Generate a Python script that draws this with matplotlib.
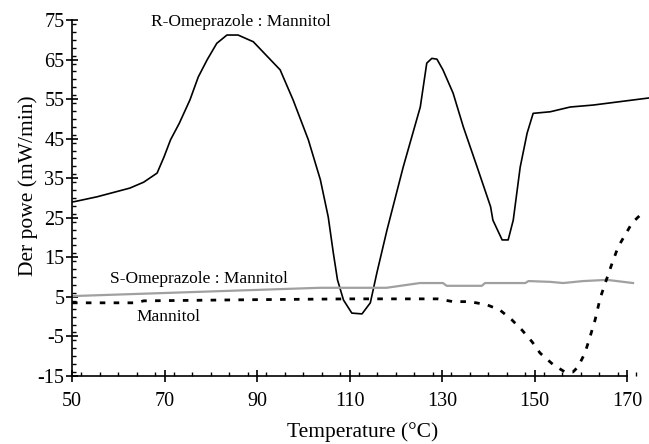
import numpy as np
import matplotlib
matplotlib.use('Agg')
import matplotlib.pyplot as plt
from matplotlib.ticker import MultipleLocator

# R-Omeprazole : Mannitol
r_temp = [50, 50.6, 55.4, 62.5, 65.5, 68.4, 69.9, 71.3, 73.2, 75.5, 77.3, 79.2, 81.3, 83.5, 85.9,
          89.2, 95.0, 97.8, 101.1, 103.7, 105.4, 106.5, 107.4, 108.7, 110.5, 112.7, 114.5, 115.9,
          118.1, 121.6, 125.3, 126.7, 127.8, 128.9, 130.2, 132.4, 134.6, 137.6, 140.5, 141.0,
          143.0, 144.3, 145.4, 146.9, 148.4, 149.7, 153.4, 157.7, 162.7, 174.8]
r_val = [29.0, 29.1, 30.3, 32.5, 34.0, 36.3, 40.4, 44.7, 48.9, 54.8, 60.6, 64.9, 69.1, 71.2, 71.2,
         69.5, 62.4, 54.8, 44.7, 34.6, 25.2, 16.1, 9.3, 4.2, 0.9, 0.7, 3.5, 11.0,
         21.9, 37.8, 53.0, 64.1, 65.3, 65.1, 62.4, 56.5, 48.0, 37.8, 27.8, 24.4,
         19.4, 19.4, 24.4, 37.8, 46.4, 51.4, 51.8, 53.0, 53.5, 55.3]

# S-Omeprazole : Mannitol
s_temp = [50, 103.6, 118.0, 125.2, 130.2, 131.0, 138.6, 139.3, 148.0, 148.7, 153.4, 156.2,
          160.5, 165.7, 171.3]
s_val = [5.2, 7.3, 7.3, 8.5, 8.5, 7.8, 7.8, 8.5, 8.5, 9.0, 8.8, 8.5, 9.0, 9.3, 8.5]

# Mannitol
m_temp = [50, 63.9, 65.5, 90, 110, 129.0, 132.4, 136.0, 139.7, 142.5, 145.1, 147.3, 149.5,
          151.2, 154.1, 156.6, 158.3, 159.4, 160.9, 162.0, 163.1, 164.2, 165.3, 166.8, 168.1,
          171.1, 173.3]
m_val = [3.5, 3.5, 4.0, 4.3, 4.5, 4.5, 3.8, 3.8, 3.0, 1.7, -0.8, -3.4, -6.4,
         -9.2, -12.2, -14.0, -14.0, -12.7, -9.2, -5.1, -0.8, 4.7, 8.5, 13.6, 17.7,
         23.7, 26.2]

x_ticks = [50, 70, 90, 110, 130, 150, 170]
y_ticks = [-15, -5, 5, 15, 25, 35, 45, 55, 65, 75]

plt.rcParams['font.family'] = ['Liberation Serif', 'DejaVu Serif']
plt.rcParams['axes.unicode_minus'] = False

fig = plt.figure(figsize=(6.49, 4.44), dpi=100)
ax = fig.add_axes([72 / 649, 1 - 376 / 444, 1 - 72 / 649, 356 / 444])

ax.plot(r_temp, r_val, color='black', lw=1.2)
ax.plot(s_temp, s_val, color='#a0a0a0', lw=1.6)
ax.plot(m_temp, m_val, color='black', lw=2.0, dashes=(2, 3))

ax.text(67, 74.5, 'R-Omeprazole : Mannitol', fontsize=12.5, va='center')
ax.text(58.2, 9.5, 'S-Omeprazole : Mannitol', fontsize=12.5, va='center')
ax.text(63.9, 0, 'Mannitol', fontsize=12.5, va='center')

ax.set_xlim(50, 174.75)
ax.set_ylim(-15, 75)
ax.set_xticks(x_ticks)
ax.set_yticks(y_ticks)
ax.xaxis.set_minor_locator(MultipleLocator(4))
ax.yaxis.set_minor_locator(MultipleLocator(2))
ax.tick_params(which='major', direction='inout', length=9, width=1.2, labelsize=14.5)
ax.tick_params(which='minor', direction='in', length=3, width=1)
ax.tick_params(axis='x', pad=7)
ax.tick_params(axis='y', pad=1)

ax.spines['top'].set_visible(False)
ax.spines['right'].set_visible(False)
ax.spines['bottom'].set_bounds(50, 170)
ax.spines['left'].set_linewidth(1.2)
ax.spines['bottom'].set_linewidth(1.2)
ax.patch.set_alpha(0)

ax.set_xlabel('Temperature (°C)', fontsize=15.5)
ax.set_ylabel('Der powe (mW/min)', fontsize=15.5)
ax.xaxis.set_label_coords(0.503, -0.157)
ax.yaxis.set_label_coords(-0.076, 0.534)
ax.xaxis.label.set_va('center')
ax.yaxis.label.set_va('center')

fig.savefig('out.png', dpi=100)
